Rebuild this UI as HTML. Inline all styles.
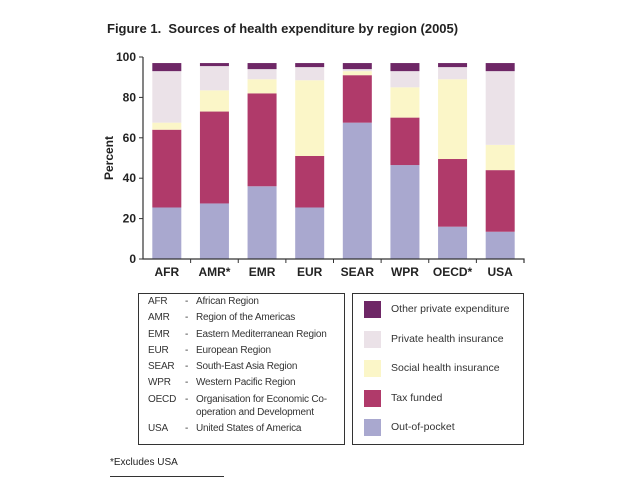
<!DOCTYPE html>
<html><head><meta charset="utf-8"><style>
body{margin:0;background:#fff;font-family:"Liberation Sans",Arial,sans-serif;}
#wrap{position:relative;width:638px;height:479px;overflow:hidden;}
.t{position:absolute;white-space:nowrap;color:#222;}
.r{position:absolute;left:0;white-space:nowrap;}
.r span{position:absolute;top:0;}
</style></head><body>
<div id="wrap">
<div class="t" style="left:107px;top:21px;font-size:13px;font-weight:bold;">Figure 1.&nbsp; Sources of health expenditure by region (2005)</div>
<svg id="chart" width="638" height="479" style="position:absolute;left:0;top:0"></svg>
<div id="keybox" style="position:absolute;left:138px;top:293px;width:205px;height:150px;border:1px solid #333;font-size:10px;color:#333;letter-spacing:-0.2px;"></div>
<div style="position:absolute;left:352px;top:293px;width:170px;height:150px;border:1px solid #333;font-size:10.5px;color:#333;">
<div id="leg"></div>
</div>
<div class="t" style="left:110px;top:457px;font-size:10px;">*Excludes USA</div>
<div style="position:absolute;left:110px;top:476px;width:114px;height:1px;background:#333;"></div>
</div>
<script>
const categories=["AFR","AMR*","EMR","EUR","SEAR","WPR","OECD*","USA"];
const seriesNames=["Out-of-pocket","Tax funded","Social health insurance","Private health insurance","Other private expenditure"];
const outOfPocket=[25.5,27.5,36,25.5,67.5,46.5,16,13.5];
const taxFunded=[38.5,45.5,46,25.5,23.5,23.5,33.5,30.5];
const socialInsurance=[3.5,10.5,7,37.5,2,15,39.5,12.5];
const privateInsurance=[25.5,12,5,6.5,1,8,6,36.5];
const otherPrivate=[4,1.5,3,2,3,4,2,4];
const yTicks=[0,20,40,60,80,100];
const colors=["#a9a8cf","#b03a6a","#fbf6c8","#ebe2e8","#6e2766"];
const series=[outOfPocket,taxFunded,socialInsurance,privateInsurance,otherPrivate];
const NS="http://www.w3.org/2000/svg";
const svg=document.getElementById('chart');
const x0=143,x1=524,yb=259,yt=57;
const y=v=>yb-(v/100)*(yb-yt);
const step=(x1-x0)/categories.length;
const xc=i=>x0+step*(i+0.5);
const bw=29;
function mk(t,a){const e=document.createElementNS(NS,t);for(const k in a)e.setAttribute(k,a[k]);svg.appendChild(e);return e;}
categories.forEach((c,i)=>{let acc=0;series.forEach((s,j)=>{const v=s[i];
const r=mk('rect',{x:xc(i)-bw/2,y:y(acc+v),width:bw,height:y(acc)-y(acc+v),fill:colors[j]});

acc+=v;});
const t=mk('text',{x:xc(i),y:yb+17,'text-anchor':'middle','font-size':12,'font-weight':'bold',fill:'#222','font-family':'Liberation Sans, sans-serif'});
t.textContent=c;


if(i>0){const tk=mk('line',{x1:x0+step*i,x2:x0+step*i,y1:yb,y2:yb+4,stroke:'#333'});}
});
const ax=mk('path',{d:`M${x0},${yt}V${yb}H${x1}V${yb+4}`,fill:'none',stroke:'#333','stroke-width':1.2});


yTicks.forEach(v=>{const l=mk('line',{x1:x0-4,x2:x0,y1:y(v),y2:y(v),stroke:'#333'});


const t=mk('text',{x:x0-7,y:y(v)+4,'text-anchor':'end','font-size':12,'font-weight':'bold',fill:'#222','font-family':'Liberation Sans, sans-serif'});
t.textContent=v;

});
const yl=mk('text',{x:0,y:0,transform:`translate(113,${(yb+yt)/2}) rotate(-90)`,'text-anchor':'middle','font-size':12,'font-weight':'bold',fill:'#222','font-family':'Liberation Sans, sans-serif'});
yl.textContent='Percent';


const abbr=["AFR","AMR","EMR","EUR","SEAR","WPR","OECD","USA"];
const full=["African Region","Region of the Americas","Eastern Mediterranean Region","European Region","South-East Asia Region","Western Pacific Region","Organisation for Economic Co-<br>operation and Development","United States of America"];
const rowTop=[2,18,35,51,67,83,100,129];
const kb=document.getElementById('keybox');
abbr.forEach((a,k)=>{const d=document.createElement('div');


d.className='r';d.style.top=rowTop[k]+'px';d.style.lineHeight='12.5px';
d.innerHTML=`<span style="left:9px">${a}</span><span style="left:46px">-</span><span style="left:57px">${full[k]}</span>`;
kb.appendChild(d);});
const leg=document.getElementById('leg');
for(let j=4;j>=0;j--){const k=4-j;const d=document.createElement('div');


d.style.cssText=`position:absolute;left:11px;top:${7+k*29.5}px;height:17px;`;
d.innerHTML=`<span style="position:absolute;left:0;top:0;width:17px;height:17px;background:${colors[j]}"></span><span style="position:absolute;left:27px;top:2px;white-space:nowrap">${seriesNames[j]}</span>`;
leg.appendChild(d);}
</script>
</body></html>
